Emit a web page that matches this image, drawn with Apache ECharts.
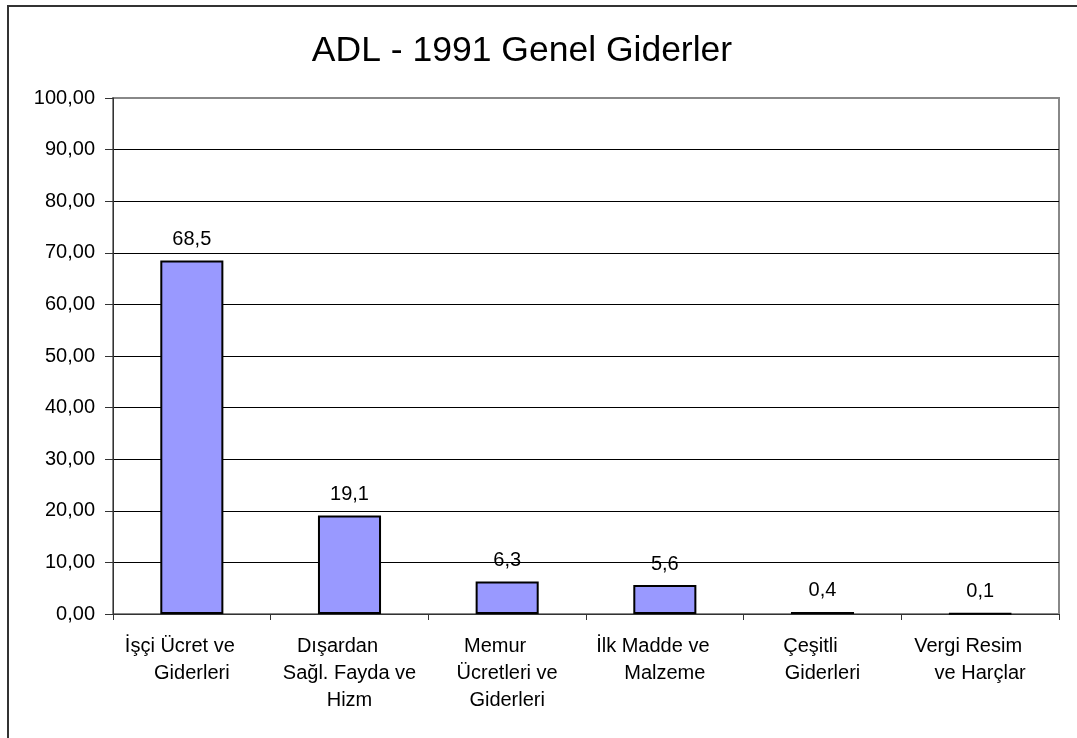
<!DOCTYPE html>
<html><head><meta charset="utf-8">
<script src="https://cdn.jsdelivr.net/npm/echarts@6/dist/echarts.min.js"></script>
<style>html,body{margin:0;padding:0;background:#fff}#c{width:1077px;height:738px}</style>
</head><body><div id="c"></div>
<script>
const categories = ["İşçi Ücret ve\nGiderleri", "Dışardan\nSağl. Fayda ve\nHizm", "Memur\nÜcretleri ve\nGiderleri", "İlk Madde ve\nMalzeme", "Çeşitli\nGiderleri", "Vergi Resim\nve Harçlar"];
const values = [68.5, 19.1, 6.3, 5.6, 0.4, 0.1];
const yTicks = [0, 10, 20, 30, 40, 50, 60, 70, 80, 90, 100];
const chart = echarts.init(document.getElementById('c'));
const F = 'Liberation Sans, Arial, sans-serif';
const splitColors = yTicks.map(v => v === 100 ? '#888' : '#000');
chart.setOption({
  animation: false,
  title: {text: 'ADL - 1991 Genel Giderler', left: 517, top: 28, textAlign: 'center',
    textStyle: {fontFamily: F, fontSize: 35.5, fontWeight: 'normal', color: '#000'}},
  graphic: [{type: 'rect', shape: {x: 8, y: 6, width: 1200, height: 1000},
    style: {fill: 'none', stroke: '#333', lineWidth: 2}, z: 100}],
  grid: {left: 113, top: 98, width: 946, height: 516, show: true, borderColor: '#888', borderWidth: 2, backgroundColor: '#fff'},
  xAxis: {type: 'category', data: categories,
    axisLine: {lineStyle: {color: '#333', width: 1}},
    axisTick: {show: true, length: 6, lineStyle: {color: '#333'}, alignWithLabel: false},
    axisLabel: {fontFamily: F, fontSize: 20, color: '#000', lineHeight: 27, margin: 19, interval: 0,
      formatter: v => v.split('\n').map((l, i) => i === 0 ? '{a|' + l + '}' : '{b|' + l + '}').join('\n'),
      rich: {
        a: {fontFamily: F, fontSize: 20, color: '#000', lineHeight: 27, padding: [0, 24, 0, 0]},
        b: {fontFamily: F, fontSize: 20, color: '#000', lineHeight: 27}
      }}},
  yAxis: {type: 'value', min: 0, max: 100, interval: 10,
    axisLine: {show: true, lineStyle: {color: '#333', width: 1}},
    axisTick: {show: true, length: 8, lineStyle: {color: '#333'}},
    splitLine: {lineStyle: {color: splitColors, width: 1}},
    axisLabel: {fontFamily: F, fontSize: 20, color: '#000', margin: 18,
      formatter: v => v.toFixed(2).replace('.', ',')}},
  series: [{type: 'bar', data: values, barWidth: '40%',
    itemStyle: {color: '#9999FF', borderColor: '#000', borderWidth: 2},
    label: {show: true, position: 'top', distance: 11, fontFamily: F, fontSize: 20, color: '#000',
      formatter: p => p.value.toFixed(1).replace('.', ',')}}]
});
</script></body></html>
